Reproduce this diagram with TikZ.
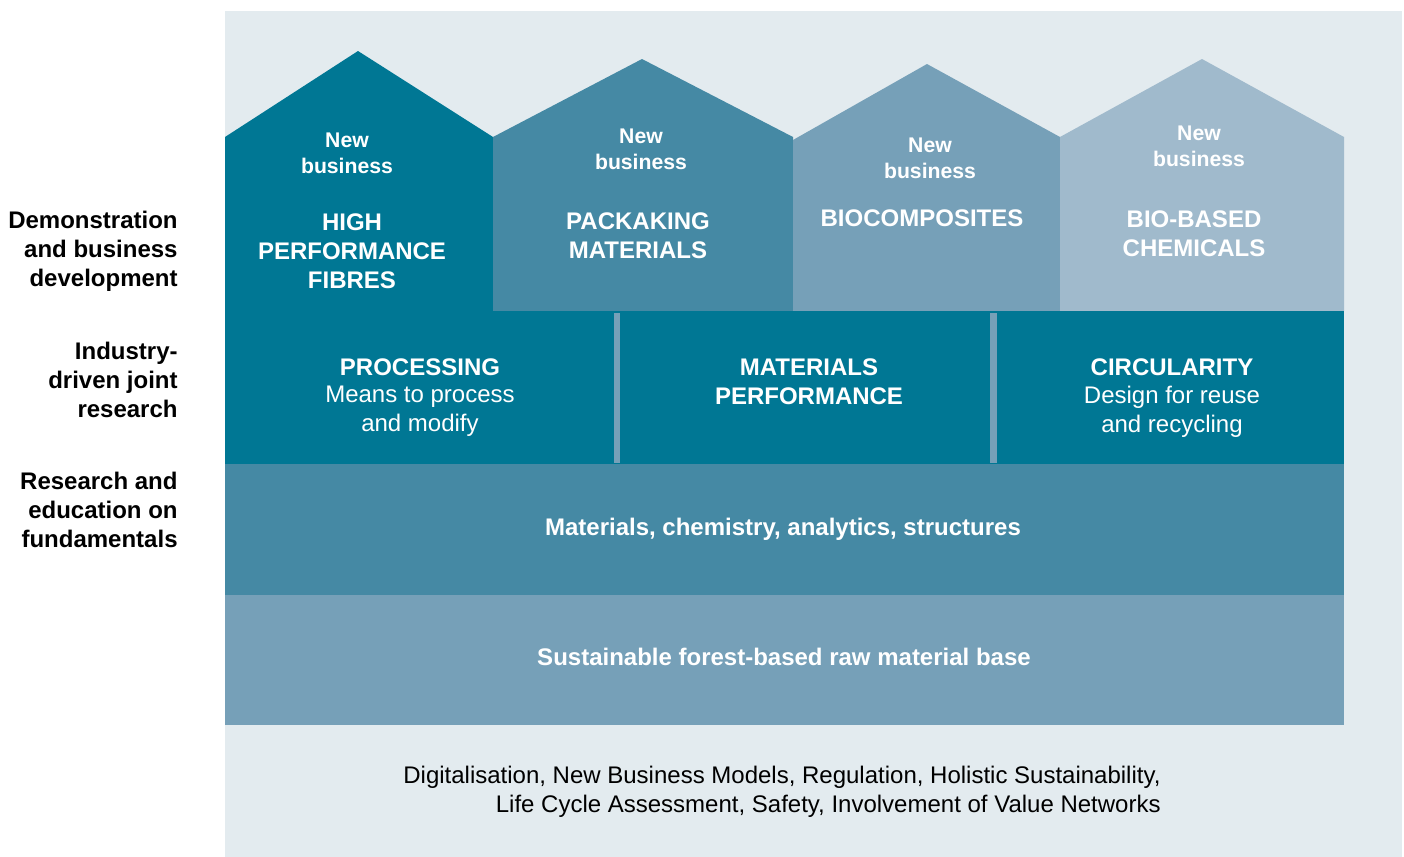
\documentclass[tikz,border=0pt]{standalone}
\usepackage{fontspec}
\setmainfont{Liberation Sans}
\definecolor{cdark}{RGB}{0,119,148}
\definecolor{cmid}{RGB}{69,137,164}
\definecolor{clight}{RGB}{118,160,184}
\definecolor{cpale}{RGB}{160,186,204}
\definecolor{cbg}{RGB}{227,235,239}
\tikzset{
  lbl/.style={align=right, anchor=east, font=\fontsize{12}{14.5}\selectfont\bfseries, text=black, inner sep=0pt},
  wt/.style={align=center, text=white, font=\fontsize{12}{14.5}\selectfont\bfseries, inner sep=0pt},
  nb/.style={align=center, text=white, font=\fontsize{10.6}{13}\selectfont\bfseries, inner sep=0pt},
  wr/.style={align=center, text=white, font=\fontsize{12}{14.5}\selectfont, inner sep=0pt},
}
\begin{document}
\begin{tikzpicture}[x=0.5pt,y=-0.5pt]
\useasboundingbox (0,0) rectangle (1404,857);
% background panel
\fill[cbg] (225,11) rectangle (1402,857);
% houses
\fill[cdark] (225,311) -- (225,137) -- (358,51) -- (493,137) -- (493,311) -- cycle;
\fill[cmid] (493,311) -- (493,137) -- (642,59) -- (793,137) -- (793,311) -- cycle;
\fill[clight] (793,311) -- (793,140) -- (927,64) -- (1060,137) -- (1060,311) -- cycle;
\fill[cpale] (1060,311) -- (1060,137) -- (1202,59) -- (1344,137) -- (1344,311) -- cycle;
% rows
\fill[cdark] (225,311) rectangle (1344,464);
\fill[clight] (614,313) rectangle (620,463);
\fill[clight] (990,313) rectangle (997,463);
\fill[cmid] (225,464) rectangle (1344,595);
\fill[clight] (225,595) rectangle (1344,725);
% left labels
\node[lbl] (l1) at (178,251.5) {Demonstration\\and business\\development};
\node[lbl] (l2) at (178,380) {Industry-\\driven joint\\research};
\node[lbl] (l3) at (178,510) {Research and\\education on\\fundamentals};
% house texts
\node[nb] (nb1) at (347,153) {New\\business};
\node[wt] (h1) at (352,251) {HIGH\\PERFORMANCE\\FIBRES};
\node[nb] (nb2) at (641,149) {New\\business};
\node[wt] (h2) at (638,235.5) {PACKAKING\\MATERIALS};
\node[nb] (nb3) at (930,158) {New\\business};
\node[wt] (h3) at (922,218) {BIOCOMPOSITES};
\node[nb] (nb4) at (1199,146) {New\\business};
\node[wt] (h4) at (1194,234) {BIO-BASED\\CHEMICALS};
% middle row
\node[wt] (m1) at (420,367) {PROCESSING};
\node[wr] (m1b) at (420,411.5) {Means to process\\and modify};
\node[wt] (m2) at (809,381.5) {MATERIALS\\PERFORMANCE};
\node[wt] (m3) at (1172,367) {CIRCULARITY};
\node[wr] (m3b) at (1172,411.5) {Design for reuse\\and recycling};
% base rows
\node[wt] (r1) at (783,529) {Materials, chemistry, analytics, structures};
\node[wt] (r2) at (784,657) {Sustainable forest-based raw material base};
% bottom text
\node[align=right, anchor=east, inner sep=0pt, font=\fontsize{12}{14.5}\selectfont] (bt) at (1161,792) {Digitalisation, New Business Models, Regulation, Holistic Sustainability,\\Life Cycle Assessment, Safety, Involvement of Value Networks};
\end{tikzpicture}
\end{document}
